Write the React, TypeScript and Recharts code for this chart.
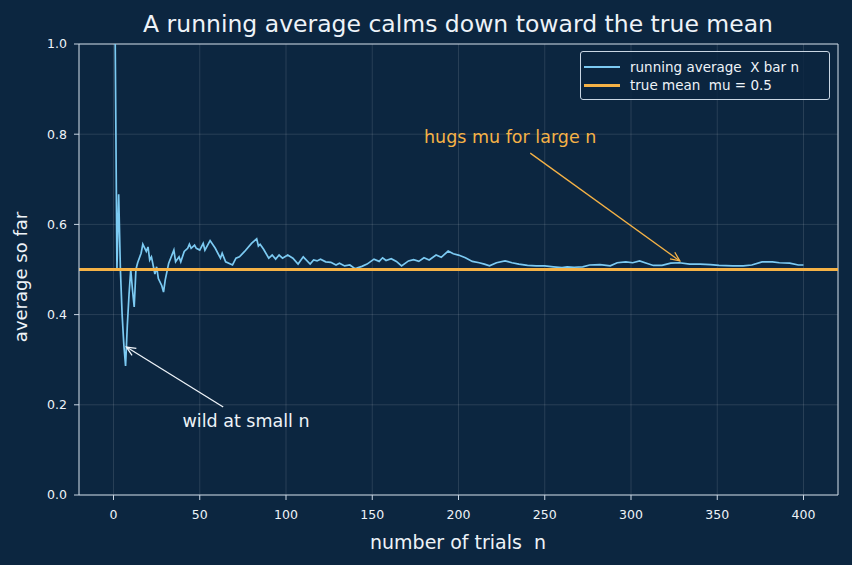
import React from 'react';
import { LineChart, Line, XAxis, YAxis, CartesianGrid, ReferenceLine, ReferenceDot } from 'recharts';

// number of trials
const trialN = [
  1, 2, 3, 4, 5, 6, 7, 8, 9, 10, 11, 12, 13, 14, 16, 17, 19, 20, 21, 22, 24, 25, 26, 28, 29, 30, 32, 35, 36, 38,
  39, 41, 43, 44, 45, 47, 48, 50, 52, 53, 56, 59, 62, 63, 65, 69, 71, 73, 76, 80, 83, 84, 85, 87, 90, 92, 94, 96,
  98, 101, 104, 107, 110, 114, 116, 118, 120, 123, 126, 129, 131, 134, 137, 140, 141, 144, 147, 151, 154, 156,
  158, 161, 164, 167, 171, 174, 177, 180, 183, 187, 190, 194, 197, 200, 204, 208, 212, 215, 218, 222, 227, 231,
  235, 240, 245, 250, 255, 260, 263, 267, 272, 276, 282, 288, 292, 297, 301, 305, 309, 313, 318, 323, 328, 334,
  340, 346, 351, 359, 365, 370, 376, 382, 386, 392, 397, 400,
];

// running average at each of those n
const runningAvg = [
  1.0, 0.5, 0.667, 0.5, 0.4, 0.333, 0.286, 0.375, 0.444, 0.5, 0.455, 0.417, 0.5, 0.515, 0.536, 0.556, 0.54, 0.55,
  0.521, 0.528, 0.49, 0.506, 0.48, 0.464, 0.45, 0.477, 0.514, 0.543, 0.517, 0.528, 0.517, 0.54, 0.547, 0.556,
  0.547, 0.554, 0.547, 0.543, 0.558, 0.543, 0.564, 0.547, 0.525, 0.536, 0.517, 0.51, 0.525, 0.528, 0.54, 0.558,
  0.568, 0.552, 0.556, 0.545, 0.525, 0.532, 0.523, 0.532, 0.525, 0.532, 0.525, 0.512, 0.528, 0.512, 0.521, 0.519,
  0.523, 0.517, 0.516, 0.51, 0.514, 0.508, 0.51, 0.502, 0.503, 0.507, 0.512, 0.523, 0.518, 0.526, 0.52, 0.524,
  0.518, 0.508, 0.519, 0.522, 0.518, 0.526, 0.521, 0.532, 0.527, 0.541, 0.535, 0.532, 0.526, 0.518, 0.515, 0.512,
  0.508, 0.515, 0.519, 0.515, 0.512, 0.509, 0.508, 0.508, 0.506, 0.504, 0.506, 0.505, 0.506, 0.51, 0.511, 0.508,
  0.515, 0.517, 0.515, 0.519, 0.514, 0.509, 0.509, 0.514, 0.515, 0.512, 0.512, 0.511, 0.509, 0.508, 0.508, 0.51,
  0.517, 0.517, 0.515, 0.514, 0.51, 0.51,
];

const trueMean = 0.5;
const xTicks = [0, 50, 100, 150, 200, 250, 300, 350, 400];
const yTicks = [0, 0.2, 0.4, 0.6, 0.8, 1.0];

const data = trialN.map((n, i) => ({ n, avg: runningAvg[i] }));

const BG = '#0c2640';
const SPINE = '#c9d6e3';
const BLUE = '#7ccaf2';
const ORANGE = '#f5b246';
const TEXT = '#eef3f8';
const FONT = '"DejaVu Sans", sans-serif';

// arrow drawn from the text end (x1,y1) to the tip (x2,y2), open head like matplotlib "->"
const arrowShape = (color: string) => (props: any) => {
  const { x1, y1, x2, y2 } = props;
  const ang = Math.atan2(y2 - y1, x2 - x1);
  const len = 10;
  const spread = 0.42;
  const ax = x2 - len * Math.cos(ang - spread);
  const ay = y2 - len * Math.sin(ang - spread);
  const bx = x2 - len * Math.cos(ang + spread);
  const by = y2 - len * Math.sin(ang + spread);
  return (
    <g>
      <line x1={x1} y1={y1} x2={x2} y2={y2} stroke={color} strokeWidth={1.3} />
      <polyline points={`${ax},${ay} ${x2},${y2} ${bx},${by}`} fill="none" stroke={color} strokeWidth={1.3} />
    </g>
  );
};

const textShape = (label: string, color: string) => (props: any) => (
  <text x={props.cx} y={props.cy} fill={color} fontSize={17.5} fontFamily={FONT} textAnchor="start">
    {label}
  </text>
);

export default function App() {
  return (
    <div style={{ position: 'relative', width: 852, height: 565, background: BG, fontFamily: FONT }}>
      <style>{`body{margin:0;background:${BG};}`}</style>
      <LineChart width={852} height={565} data={data} margin={{ top: 44, right: 14, bottom: 40, left: 29 }}>
        <CartesianGrid stroke="rgba(255,255,255,0.15)" strokeWidth={0.8} />
        <XAxis
          dataKey="n"
          type="number"
          domain={[-20, 420]}
          ticks={xTicks}
          allowDataOverflow
          height={30}
          stroke={SPINE}
          tickSize={5}
          tickMargin={10}
          tick={{ fill: TEXT, fontSize: 12.5, fontFamily: FONT }}
        />
        <YAxis
          type="number"
          domain={[0, 1]}
          ticks={yTicks}
          allowDataOverflow
          width={50}
          stroke={SPINE}
          tickSize={5}
          tickMargin={7}
          tickFormatter={(v: number) => v.toFixed(1)}
          tick={{ fill: TEXT, fontSize: 12.5, fontFamily: FONT }}
        />
        <ReferenceLine y={1} stroke={SPINE} strokeWidth={1} ifOverflow="extendDomain" />
        <ReferenceLine x={420} stroke={SPINE} strokeWidth={1} ifOverflow="extendDomain" />
        <Line
          dataKey="avg"
          type="linear"
          stroke={BLUE}
          strokeWidth={1.7}
          dot={false}
          isAnimationActive={false}
        />
        <ReferenceLine y={trueMean} stroke={ORANGE} strokeWidth={3} />
        <ReferenceLine
          segment={[{ x: 241.6, y: 0.758 }, { x: 328.3, y: 0.519 }]}
          shape={arrowShape(ORANGE)}
        />
        <ReferenceLine
          segment={[{ x: 63.6, y: 0.195 }, { x: 7.5, y: 0.328 }]}
          shape={arrowShape(TEXT)}
        />
        <ReferenceDot x={180} y={0.78} r={0} shape={textShape('hugs mu for large n', ORANGE)} />
        <ReferenceDot x={40} y={0.15} r={0} shape={textShape('wild at small n', TEXT)} />
        <text x={458} y={32} textAnchor="middle" fill={TEXT} fontSize={23.5} fontFamily={FONT}>
          A running average calms down toward the true mean
        </text>
        <text x={458} y={549} textAnchor="middle" fill={TEXT} fontSize={19} fontFamily={FONT} style={{ whiteSpace: 'pre' }}>
          {'number of trials  n'}
        </text>
        <text
          x={27}
          y={277}
          textAnchor="middle"
          fill={TEXT}
          fontSize={18}
          fontFamily={FONT}
          transform="rotate(-90 27 277)"
        >
          average so far
        </text>
      </LineChart>
      <div
        style={{
          position: 'absolute',
          left: 580,
          top: 51,
          width: 250,
          height: 49,
          boxSizing: 'border-box',
          border: `1px solid ${SPINE}`,
          borderRadius: 3,
          background: 'rgba(12,38,64,0.85)',
          color: TEXT,
          fontSize: 13.5,
          fontFamily: FONT,
        }}
      >
        {[
          { label: 'running average  X bar n', color: BLUE, w: 1.7 },
          { label: 'true mean  mu = 0.5', color: ORANGE, w: 3 },
        ].map((item, i) => (
          <div
            key={item.label}
            style={{ position: 'absolute', left: 3, top: 6 + i * 18, height: 18, display: 'flex', alignItems: 'center' }}
          >
            <span style={{ display: 'inline-block', width: 36, height: item.w, background: item.color, marginRight: 10 }} />
            <span style={{ whiteSpace: 'pre' }}>{item.label}</span>
          </div>
        ))}
      </div>
    </div>
  );
}
